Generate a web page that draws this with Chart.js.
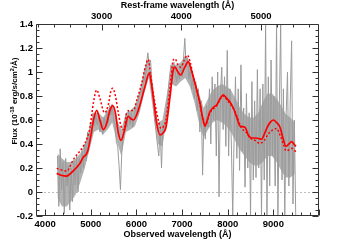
<!DOCTYPE html>
<html lang="en">
<head>
  <meta charset="UTF-8" />
  <title>Spectrum</title>
  <script src="https://cdn.jsdelivr.net/npm/chart.js"></script>
  <style>
    body { margin: 0; background: #fff; }
  </style>
</head>
<body>
  <canvas id="spec" width="355" height="240"></canvas>

  <script>
    // redshift factor (1+z) linking observed and rest-frame axes
    const zFactor = 1.746;

    const obsTicks = [4000, 5000, 6000, 7000, 8000, 9000];
    const restTicks = [3000, 4000, 5000];
    const fluxTicks = [-0.2, 0, 0.2, 0.4, 0.6, 0.8, 1, 1.2, 1.4];

    // observed spectrum (grey): noisy trace
    const specWave = [
      4270,4300,4330,4360,4390,4420,4450,4480,4510,4540,
      4570,4600,4630,4660,4690,4720,4750,4780,4810,4840,
      4870,4900,4930,4960,4990,5020,5050,5080,5110,5140,
      5170,5200,5230,5260,5290,5320,5350,5380,5410,5440,
      5470,5500,5530,5560,5590,5620,5650,5680,5710,5740,
      5770,5800,5830,5860,5890,5920,5950,5980,6010,6040,
      6070,6100,6130,6160,6190,6220,6250,6280,6310,6340,
      6370,6400,6430,6460,6490,6520,6550,6580,6610,6640,
      6670,6700,6730,6760,6790,6820,6850,6880,6910,6940,
      6970,7000,7030,7060,7090,7120,7150,7180,7210,7240,
      7270,7300,7330,7360,7390,7420,7450,7480,7510,7540,
      7570,7600,7630,7660,7690,7720,7750,7780,7810,7840,
      7870,7900,7930,7960,7990,8020,8050,8080,8110,8140,
      8170,8200,8230,8260,8290,8320,8350,8380,8410,8440,
      8470,8500,8530,8560,8590,8620,8650,8680,8710,8740,
      8770,8800,8830,8860,8890,8920,8950,8980,9010,9040,
      9070,9100,9130,9160,9190,9220,9250,9280,9310,9340,
      9370,9400,9430,9460,9490
    ];
    const specFlux = [
      0.30,-0.12,0.36,0.02,0.25,-0.18,0.28,0.05,0.22,-0.15,
      0.20,-0.08,0.26,0.06,0.30,0.00,0.28,0.16,0.34,0.20,
      0.40,0.26,0.50,0.40,0.58,0.48,0.66,0.55,0.65,0.56,
      0.62,0.50,0.60,0.48,0.62,0.54,0.68,0.58,0.72,0.64,
      0.72,0.60,0.56,0.42,0.38,0.22,0.02,0.34,0.46,0.56,
      0.64,0.54,0.68,0.56,0.66,0.54,0.62,0.70,0.64,0.76,
      0.80,0.86,0.82,0.96,0.92,1.06,1.16,1.06,1.10,0.90,
      0.76,0.60,0.50,0.40,0.30,0.52,0.20,0.56,0.50,0.64,
      0.74,0.86,0.98,1.06,0.94,1.08,1.00,0.92,1.00,0.94,
      1.06,0.96,1.10,1.28,1.04,1.12,0.94,1.02,0.86,0.96,
      0.78,0.92,0.68,0.86,0.50,0.76,0.14,0.62,0.44,0.72,
      0.54,0.86,0.40,0.96,0.60,0.90,0.30,1.00,-0.04,0.82,
      1.04,0.52,0.96,0.38,1.18,0.30,0.86,0.40,-0.20,0.46,
      0.96,0.28,0.86,0.18,1.06,0.34,0.70,0.04,0.82,0.20,
      0.66,-0.20,0.92,0.10,0.76,0.12,1.02,0.20,0.86,-0.20,
      0.90,0.10,1.40,-0.20,0.96,0.05,1.10,0.30,0.80,0.05,
      1.40,-0.20,0.70,1.40,0.10,0.86,-0.20,0.64,1.00,0.05,
      0.76,1.26,-0.10,0.60,-0.20
    ];

    // observed spectrum (grey): dense noise band
    const bandWave = [
      4270,4370,4470,4570,4670,4770,4870,4970,5070,5170,5270,5370,5470,5570,
      5670,5770,5870,5970,6070,6170,6270,6370,6470,6570,6670,6770,6870,6970,
      7070,7170,7270,7370,7470,7570,7670,7770,7870,7970,8070,8170,8270,8370,
      8470,8570,8670,8770,8870,8970,9070,9170,9270,9370,9470
    ];
    const bandLow = [
      -0.05,-0.12,-0.12,-0.08,-0.02,0.08,0.20,0.35,0.50,0.52,0.48,0.52,0.58,0.42,
      0.30,0.50,0.52,0.55,0.66,0.82,0.95,0.66,0.40,0.38,0.62,0.90,0.88,0.92,
      0.95,0.88,0.75,0.58,0.45,0.52,0.58,0.60,0.58,0.55,0.50,0.42,0.35,0.30,
      0.25,0.22,0.22,0.25,0.30,0.30,0.25,0.18,0.12,0.12,0.15
    ];
    const bandHigh = [
      0.32,0.28,0.25,0.25,0.28,0.32,0.40,0.52,0.66,0.66,0.62,0.68,0.74,0.60,
      0.52,0.66,0.68,0.72,0.84,1.02,1.12,0.86,0.58,0.60,0.82,1.06,1.06,1.08,
      1.14,1.08,0.95,0.82,0.70,0.78,0.85,0.88,0.90,0.88,0.85,0.78,0.70,0.65,
      0.62,0.62,0.66,0.75,0.82,0.82,0.78,0.72,0.65,0.62,0.58
    ];

    // model, solid red
    const modelWave = [
      4253,4350,4473,4600,4764,4836,4924,4998,5060,5130,5200,5274,5340,5420,5480,
      5540,5600,5662,5730,5822,5880,5931,6041,6188,6282,6330,6385,6440,6516,6580,
      6648,6735,6808,6845,6910,6970,7060,7137,7200,7283,7393,7450,7502,7560,7612,
      7700,7758,7850,7903,7980,8050,8122,8200,8269,8378,8450,8525,8620,8744,8800,
      8867,8930,8998,9070,9145,9210,9277,9340,9401,9450,9495
    ];
    const modelFlux = [
      0.155,0.140,0.133,0.17,0.24,0.29,0.33,0.46,0.60,0.68,0.60,0.52,0.56,0.68,0.72,
      0.66,0.50,0.43,0.50,0.63,0.61,0.60,0.68,0.88,0.99,0.90,0.74,0.58,0.475,0.49,
      0.54,0.79,1.02,1.04,1.00,0.975,1.04,1.086,1.02,0.906,0.74,0.62,0.55,0.61,0.67,
      0.71,0.725,0.79,0.81,0.78,0.75,0.70,0.62,0.55,0.54,0.475,0.45,0.45,0.44,0.48,
      0.54,0.58,0.60,0.58,0.54,0.45,0.38,0.40,0.42,0.40,0.38
    ];

    // alternative model, dashed red
    const altWave = [
      4253,4350,4473,4617,4760,4836,4920,4983,5060,5130,5200,5300,5380,5440,5480,
      5540,5603,5680,5728,5786,5860,5931,6020,6115,6200,6260,6310,6370,6480,6540,
      6600,6648,6730,6808,6845,6910,6970,7050,7115,7180,7246,7300,7393,7502,7612,
      7758,7903,8000,8080,8160,8306,8400,8488,8600,8707,8800,8900,9000,9072,9150,
      9220,9277,9340,9401,9450,9495
    ];
    const altFlux = [
      0.197,0.185,0.175,0.27,0.34,0.38,0.45,0.54,0.75,0.85,0.78,0.66,0.72,0.84,0.864,
      0.80,0.66,0.53,0.52,0.66,0.68,0.68,0.78,0.905,1.05,1.105,0.98,0.82,0.60,0.53,
      0.55,0.60,0.85,1.10,1.11,1.06,1.04,1.10,1.14,1.08,0.96,0.88,0.73,0.55,0.66,
      0.72,0.80,0.76,0.72,0.67,0.53,0.50,0.45,0.43,0.405,0.43,0.49,0.52,0.53,0.47,
      0.40,0.344,0.35,0.364,0.35,0.336
    ];

    const pts = (xs, ys) => xs.map((x, i) => ({ x: x, y: ys[i] }));
    const setTicks = vals => scale => { scale.ticks = vals.map(v => ({ value: v })); };
    const family = '"Liberation Sans", Arial, sans-serif';
    const font = { family: family, size: 9.5, weight: 'bold' };
    const titleFont = { family: family, size: 9, weight: 'bold' };
    const grey = 'rgb(155,155,155)';

    // IDL-style inward ticks, frame, zero line and y title
    const frame = {
      id: 'frame',
      beforeDatasetsDraw(chart) {
        const { ctx, chartArea: a, scales } = chart;
        const y0 = Math.round(scales.y.getPixelForValue(0)) + 0.5;
        ctx.save();
        ctx.strokeStyle = '#bdbdbd';
        ctx.lineWidth = 1;
        ctx.setLineDash([2, 2]);
        ctx.beginPath();
        ctx.moveTo(a.left, y0);
        ctx.lineTo(a.right, y0);
        ctx.stroke();
        ctx.restore();
      },
      afterDraw(chart) {
        const { ctx, chartArea: a, scales } = chart;
        ctx.save();
        ctx.strokeStyle = '#333';
        ctx.lineWidth = 1;
        ctx.beginPath();
        const L = a.left + 0.5, R = a.right - 0.5, T = a.top + 0.5, B = a.bottom - 0.5;
        ctx.rect(L, T, R - L, B - T);
        for (let v = 3800; v <= 10000; v += 200) {
          const px = Math.round(scales.x.getPixelForValue(v)) + 0.5;
          const len = v % 1000 === 0 ? 6 : 3;
          ctx.moveTo(px, B); ctx.lineTo(px, B - len);
        }
        for (let v = 2200; v <= 5700; v += 200) {
          const px = Math.round(scales.x2.getPixelForValue(v)) + 0.5;
          const len = v % 1000 === 0 ? 6 : 3;
          ctx.moveTo(px, T); ctx.lineTo(px, T + len);
        }
        for (let i = -4; i <= 28; i++) {
          const py = Math.round(scales.y.getPixelForValue(i * 0.05)) + 0.5;
          const len = i % 4 === 0 ? 6 : 3;
          ctx.moveTo(L, py); ctx.lineTo(L + len, py);
          ctx.moveTo(R, py); ctx.lineTo(R - len, py);
        }
        ctx.stroke();

        // y axis title with superscripts
        const parts = [
          ['Flux (10', 8, 0], ['-18', 5.5, 3], [' erg/s/cm', 8, 0], ['2', 5.5, 3], ['/Å)', 8, 0]
        ];
        let w = 0;
        parts.forEach(p => { ctx.font = 'bold ' + p[1] + 'px ' + family; w += ctx.measureText(p[0]).width; });
        ctx.translate(14, 101);
        ctx.rotate(-Math.PI / 2);
        ctx.fillStyle = '#000';
        ctx.textBaseline = 'alphabetic';
        let x = -w / 2;
        parts.forEach(p => {
          ctx.font = 'bold ' + p[1] + 'px ' + family;
          ctx.fillText(p[0], x, 3 - p[2]);
          x += ctx.measureText(p[0]).width;
        });
        ctx.restore();
      }
    };

    new Chart(document.getElementById('spec'), {
      type: 'line',
      data: {
        datasets: [
          {
            label: 'model',
            data: pts(modelWave, modelFlux),
            borderColor: '#ff0000',
            borderWidth: 1.7,
            pointRadius: 0,
            cubicInterpolationMode: 'monotone',
            order: 1
          },
          {
            label: 'alt',
            data: pts(altWave, altFlux),
            borderColor: '#ff0000',
            borderWidth: 1.5,
            borderDash: [2, 2],
            pointRadius: 0,
            cubicInterpolationMode: 'monotone',
            order: 2
          },
          {
            label: 'spectrum',
            data: pts(specWave, specFlux),
            borderColor: grey,
            borderWidth: 1,
            pointRadius: 0,
            tension: 0,
            order: 3
          },
          {
            label: 'band low',
            data: pts(bandWave, bandLow),
            borderWidth: 0,
            pointRadius: 0,
            fill: false,
            order: 4
          },
          {
            label: 'band high',
            data: pts(bandWave, bandHigh),
            borderWidth: 0,
            pointRadius: 0,
            backgroundColor: 'rgba(165,165,165,0.85)',
            fill: '-1',
            order: 5
          }
        ]
      },
      options: {
        responsive: false,
        devicePixelRatio: 1,
        animation: false,
        layout: { padding: { right: 36 } },
        plugins: { legend: { display: false }, tooltip: { enabled: false } },
        scales: {
          x: {
            type: 'linear',
            position: 'bottom',
            min: 3800,
            max: 10000,
            afterBuildTicks: setTicks(obsTicks),
            afterFit: s => { s.height = 24; },
            grid: { display: false, drawTicks: false },
            border: { display: false },
            ticks: { font: font, color: '#000', padding: 3, maxRotation: 0, callback: v => String(v) },
            title: { display: true, text: 'Observed wavelength (Å)', font: titleFont, color: '#000', padding: 0 }
          },
          x2: {
            type: 'linear',
            position: 'top',
            min: 3800 / zFactor,
            max: 10000 / zFactor,
            afterBuildTicks: setTicks(restTicks),
            afterFit: s => { s.height = 24; },
            grid: { display: false, drawTicks: false },
            border: { display: false },
            ticks: { font: font, color: '#000', padding: 2, maxRotation: 0, callback: v => String(v) },
            title: { display: true, text: 'Rest-frame wavelength (Å)', font: titleFont, color: '#000', padding: 0 }
          },
          y: {
            type: 'linear',
            min: -0.2,
            max: 1.4,
            afterBuildTicks: setTicks(fluxTicks),
            afterFit: s => { s.width = 36; },
            grid: { display: false, drawTicks: false },
            border: { display: false },
            ticks: { font: font, color: '#000', padding: 3, callback: v => String(+v.toFixed(2)) }
          }
        }
      },
      plugins: [frame]
    });
  </script>
</body>
</html>
